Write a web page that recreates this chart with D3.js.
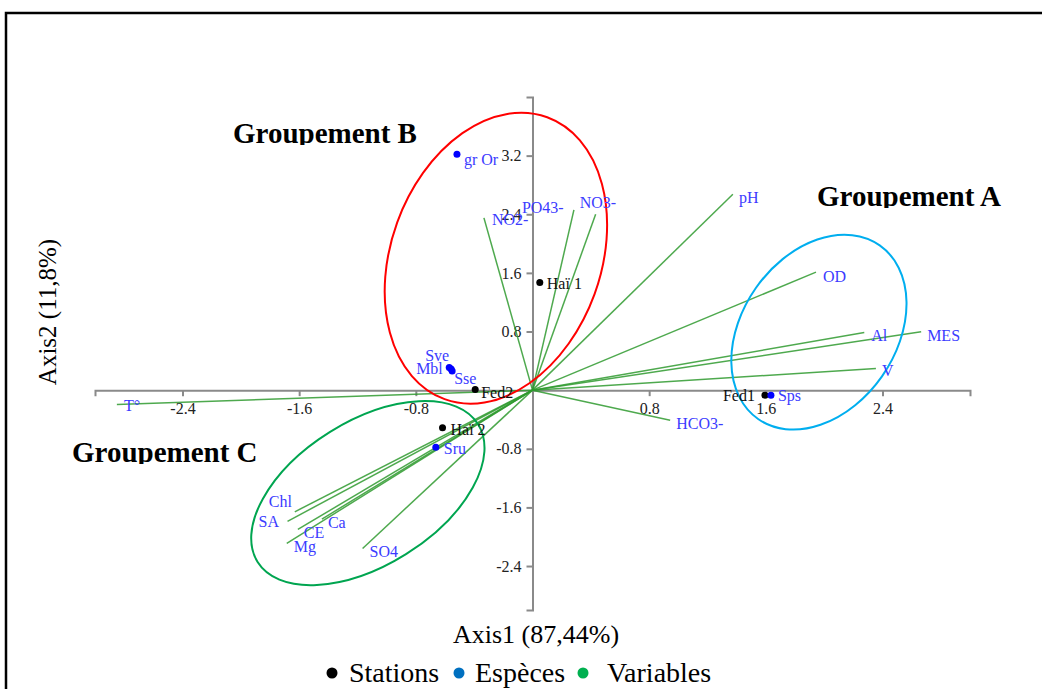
<!DOCTYPE html>
<html lang="fr">
<head>
<meta charset="UTF-8">
<script src="https://d3js.org/d3.v7.min.js"></script>
<style>
  body { margin: 0; background: #fff; }
  text { font-family: "Liberation Serif", "Times New Roman", serif; }
  .tick text { fill: #222; font-size: 16px; }
  .lbl { font-size: 16px; fill: #3b3bff; }
  .st { font-size: 16px; fill: #111; }
  .grp { font-size: 29px; font-weight: bold; fill: #000; }
</style>
</head>
<body>
<div id="chart"></div>
<script>
// CA biplot data (axis1, axis2)
const variables = ['pH', 'OD', 'Al', 'MES', 'V', 'HCO3-', 'NO3-', 'PO43-', 'NO2-', 'T°', 'Chl', 'SA', 'CE', 'Ca', 'Mg', 'SO4']
const varAxis1 = [1.374, 1.944, 2.275, 2.665, 2.355, 0.944, 0.433, 0.284, -0.333, -2.85, -1.63, -1.68, -1.609, -1.444, -1.685, -1.165]
const varAxis2 = [2.674, 1.61, 0.787, 0.796, 0.296, -0.41, 2.40, 2.46, 2.35, -0.196, -1.66, -1.79, -1.90, -1.76, -2.09, -2.16]

const stations = ['Haï 1', 'Fed2', 'Haï 2', 'Fed1']
const stAxis1 = [0.05, -0.393, -0.617, 1.594]
const stAxis2 = [1.47, 0.01, -0.514, -0.068]

const species = ['gr Or', 'Sve', 'Mbl', 'Sse', 'Sru', 'Sps']
const spAxis1 = [-0.518, -0.571, -0.558, -0.551, -0.663, 1.635]
const spAxis2 = [3.22, 0.31, 0.29, 0.26, -0.78, -0.068]

const xTicks = [-2.4, -1.6, -0.8, 0.8, 1.6, 2.4]
const yTicks = [-2.4, -1.6, -0.8, 0.8, 1.6, 2.4, 3.2]

const groups = ['Groupement B', 'Groupement A', 'Groupement C']
const groupCenter1 = [-0.251, 1.964, -1.129]
const groupCenter2 = [1.80, 0.791, -1.405]

// label placement (px offsets from the point)
const offs = {
  'pH': [6, 9], 'OD': [7, 10], 'Al': [7, 9], 'MES': [6, 9], 'V': [6, 8], 'HCO3-': [6, 9],
  'NO3-': [-16, -6], 'PO43-': [-52, 3], 'NO2-': [8, 7], 'T°': [7, 6], 'Chl': [-26, -5],
  'SA': [-29, 6], 'CE': [6, 9], 'Ca': [6, 9], 'Mg': [7, 9], 'SO4': [7, 9],
  'Haï 1': [7, 7], 'Fed2': [6, 9], 'Haï 2': [8, 7], 'Fed1': [-10, 6],
  'gr Or': [7, 11], 'Sve': [-24, -6], 'Mbl': [-35, 5], 'Sse': [2, 13], 'Sru': [8, 7], 'Sps': [7, 6]
}

const width = 1042, height = 689

const svg = d3.select('#chart').append('svg')
  .attr('width', width).attr('height', height)

// frame
svg.append('rect')
  .attr('x', 6).attr('y', 13).attr('width', 1060).attr('height', 700)
  .attr('fill', 'none').attr('stroke', '#000').attr('stroke-width', 2.5)

const x = d3.scaleLinear().domain([-3, 3]).range([95, 970])
const y = d3.scaleLinear().domain([-3, 4]).range([610, 97])

const fmt = d => d.toFixed(1)

// axes through origin
const xAxis = svg.append('g')
  .attr('transform', `translate(0,${y(0)})`)
  .call(d3.axisBottom(x).tickValues(xTicks).tickSize(6).tickFormat(fmt))
const yAxis = svg.append('g')
  .attr('transform', `translate(${x(0)},0)`)
  .call(d3.axisLeft(y).tickValues(yTicks).tickSize(6).tickFormat(fmt))
;[xAxis, yAxis].forEach(a => {
  a.attr('font-family', '"Liberation Serif", "Times New Roman", serif').attr('font-size', 16)
  a.select('.domain').attr('stroke', '#8a8a8a').attr('stroke-width', 2)
  a.selectAll('.tick line').attr('stroke', '#8a8a8a').attr('stroke-width', 2)
})
xAxis.selectAll('.tick text').attr('dy', '0.9em')
yAxis.selectAll('.tick text').attr('dx', '-2px')

// variable vectors
const vars = variables.map((n, i) => ({ n, a: varAxis1[i], b: varAxis2[i] }))
svg.append('g').selectAll('line').data(vars).enter().append('line')
  .attr('x1', x(0)).attr('y1', y(0))
  .attr('x2', d => x(d.a)).attr('y2', d => y(d.b))
  .attr('stroke', '#2f9a2f').attr('stroke-opacity', 0.85).attr('stroke-width', 1.5)

// group ellipses
const ell = [
  { c: 'red', rx: 105, ry: 150, rot: 20 },
  { c: '#00aeef', rx: 77, ry: 106, rot: 35 },
  { c: '#00a550', rx: 130, ry: 72, rot: -32 }
]
groups.forEach((g, i) => {
  const cx = x(groupCenter1[i]), cy = y(groupCenter2[i])
  svg.append('ellipse')
    .attr('cx', 0).attr('cy', 0).attr('rx', ell[i].rx).attr('ry', ell[i].ry)
    .attr('transform', `translate(${cx},${cy}) rotate(${ell[i].rot})`)
    .attr('fill', 'none').attr('stroke', ell[i].c).attr('stroke-width', 2)
})

// points
const st = stations.map((n, i) => ({ n, a: stAxis1[i], b: stAxis2[i] }))
const sp = species.map((n, i) => ({ n, a: spAxis1[i], b: spAxis2[i] }))

svg.append('g').selectAll('circle').data(st).enter().append('circle')
  .attr('cx', d => x(d.a)).attr('cy', d => y(d.b)).attr('r', 3.5).attr('fill', '#000')
svg.append('g').selectAll('circle').data(sp).enter().append('circle')
  .attr('cx', d => x(d.a)).attr('cy', d => y(d.b)).attr('r', 3.5).attr('fill', '#0000ff')

// labels
function labels(data, cls) {
  svg.append('g').selectAll('text').data(data).enter().append('text')
    .attr('class', cls)
    .attr('x', d => x(d.a) + offs[d.n][0])
    .attr('y', d => y(d.b) + offs[d.n][1])
    .attr('text-anchor', d => d.n === 'Fed1' ? 'end' : 'start')
    .text(d => d.n)
}
labels(vars, 'lbl')
labels(st, 'st')
labels(sp, 'lbl')

// group titles (clipped at the bottom like text boxes)
const grpPos = [[233, 143], [817, 206], [72, 462]]
groups.forEach((g, i) => {
  const id = 'clip' + i
  svg.append('clipPath').attr('id', id).append('rect')
    .attr('x', grpPos[i][0] - 5).attr('y', grpPos[i][1] - 30).attr('width', 200).attr('height', 32)
  svg.append('text').attr('class', 'grp')
    .attr('x', grpPos[i][0]).attr('y', grpPos[i][1])
    .attr('clip-path', `url(#${id})`)
    .text(g)
})

// axis titles
svg.append('text').attr('x', 536).attr('y', 643).attr('text-anchor', 'middle')
  .style('font-size', '26px').text('Axis1 (87,44%)')
svg.append('text').attr('transform', 'translate(56,312) rotate(-90)').attr('text-anchor', 'middle')
  .style('font-size', '25px').text('Axis2 (11,8%)')

// legend
const legend = [['Stations', '#000', 332, 349], ['Espèces', '#0070c0', 459, 475], ['Variables', '#00b050', 583, 607]]
legend.forEach(l => {
  svg.append('circle').attr('cx', l[2]).attr('cy', 673).attr('r', 5.5).attr('fill', l[1])
  svg.append('text').attr('x', l[3]).attr('y', 682).style('font-size', '28px').text(l[0])
})
</script>
</body>
</html>
